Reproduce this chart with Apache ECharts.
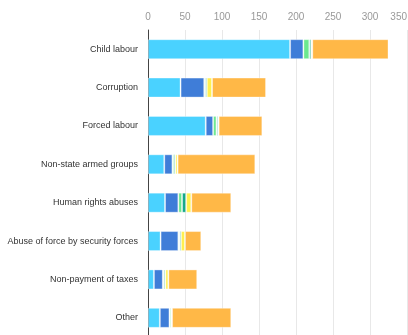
<!DOCTYPE html>
<html>
<head>
<meta charset="utf-8">
<script src="https://cdn.jsdelivr.net/npm/echarts@6/dist/echarts.min.js"></script>
<style>
  html, body { margin: 0; padding: 0; background: #fff; }
  #chart { width: 408px; height: 335px; }
</style>
</head>
<body>
<div id="chart"></div>
<script>
const categories = [
  'Child labour',
  'Corruption',
  'Forced labour',
  'Non-state armed groups',
  'Human rights abuses',
  'Abuse of force by security forces',
  'Non-payment of taxes',
  'Other'
];
const xTicks = [0, 50, 100, 150, 200, 250, 300, 350];

// stacked segments, left to right
const cyanValues = [192, 44, 78, 22, 23, 17, 8, 16];
const blueValues = [18, 32, 10, 11, 18, 24, 12, 13];
const greenValues = [8, 1.5, 4.5, 2, 5, 1.5, 1.5, 2];
const tealValues = [2.5, 2, 2, 2, 5.5, 2, 2, 1];
const yellowValues = [1.5, 7, 1, 3, 7, 5.5, 4, 0.5];
const orangeValues = [103, 73, 59, 105, 54, 22, 39, 80];

const seriesDefs = [
  { name: 'Series 1', data: cyanValues, color: '#4ad2ff' },
  { name: 'Series 2', data: blueValues, color: '#3f7dd8' },
  { name: 'Series 3', data: greenValues, color: '#6be88f' },
  { name: 'Series 4', data: tealValues, color: '#15a88a' },
  { name: 'Series 5', data: yellowValues, color: '#fff04f' },
  { name: 'Series 6', data: orangeValues, color: '#ffb847' }
];

const chart = echarts.init(document.getElementById('chart'));
chart.setOption({
  animation: false,
  backgroundColor: '#fff',
  textStyle: { fontFamily: 'Liberation Sans, Arial, sans-serif' },
  grid: {
    left: 148,
    right: 1,
    top: 30,
    bottom: -2,
    containLabel: false,
    outerBoundsMode: 'none'
  },
  xAxis: {
    type: 'value',
    position: 'top',
    min: xTicks[0],
    max: xTicks[xTicks.length - 1],
    interval: 50,
    axisLine: { show: false },
    axisTick: { show: false },
    axisLabel: { color: '#999', fontSize: 10, margin: 8, alignMaxLabel: 'right' },
    splitLine: { lineStyle: { color: '#e8e8e8' } }
  },
  yAxis: {
    type: 'category',
    data: categories,
    inverse: true,
    axisLine: { lineStyle: { color: '#444' } },
    axisTick: { length: 6, lineStyle: { color: '#444' } },
    axisLabel: { color: '#333', fontSize: 9, margin: 10 }
  },
  series: seriesDefs.map(s => ({
    name: s.name,
    type: 'bar',
    stack: 'total',
    barWidth: 20,
    data: s.data,
    itemStyle: {
      color: s.color,
      borderColor: 'rgba(255,255,255,0.35)',
      borderWidth: 1
    }
  }))
});
</script>
</body>
</html>
